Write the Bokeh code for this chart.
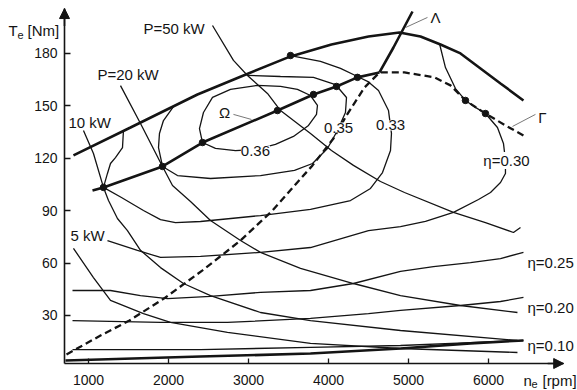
from bokeh.plotting import figure
from bokeh.models import Range1d, FixedTicker, Label, Arrow, NormalHead
from bokeh.embed import file_html
from bokeh.resources import INLINE

# ---------------- data (engine speed in rpm, torque in Nm) ----------------
x_ticks = [1000, 2000, 3000, 4000, 5000, 6000]
y_ticks = [30, 60, 90, 120, 150, 180]

# full-load (maximum torque) curve
max_rpm = [812, 1525, 2362, 2937, 3525, 4037, 4500, 4887, 5150, 5400, 5650, 5900, 6150, 6437]
max_nm = [121.6, 137.6, 156.5, 167.4, 178.3, 185.1, 189.7, 192.0, 189.7, 185.1, 180.0, 171.4, 162.8, 153.1]

# optimal operating line (Omega)
opt_rpm = [1050, 1187, 1925, 2425, 3362, 3812, 4100, 4362, 4637]
opt_nm = [101.5, 103.3, 115.3, 129.0, 147.3, 156.5, 161.1, 166.3, 169.1]

# Lambda line
lam_rpm = [4637, 4812, 5050]
lam_nm = [169.1, 183.4, 204.0]

# Gamma line (dashed)
gam_rpm = [725, 1150, 1512, 1962, 2425, 2900, 3300, 3800, 4062, 4225, 4450, 4637, 4950, 5325, 5525, 5712, 5962, 6212, 6437]
gam_nm = [7.7, 18.5, 27.1, 40.3, 55.8, 72.9, 90.1, 115.9, 131.3, 144.5, 160.5, 169.1, 169.1, 166.3, 161.7, 153.1, 145.6, 138.8, 133.0]

# constant power curves
p50_rpm = [2550, 2812, 2987, 3237, 3400, 3775, 4037, 4312, 4650, 4950, 5562, 5962, 6312, 6400]
p50_nm = [196.0, 176.0, 167.4, 157.1, 147.3, 134.2, 124.4, 115.9, 106.7, 100.4, 89.0, 83.2, 77.5, 80.4]

p20_rpm = [1400, 1650, 1925, 2050, 2275, 2525, 2900, 3150, 3650, 4312, 4900, 5650, 6362]
p20_nm = [161.6, 139.9, 115.3, 104.4, 95.2, 84.4, 72.9, 66.1, 56.9, 48.3, 41.4, 35.7, 31.7]

p10_rpm = [937, 1062, 1187, 1250, 1362, 1487, 1650, 1900, 2187, 2525, 3150, 3775, 4900, 6362]
p10_nm = [135.9, 122.7, 103.3, 95.8, 85.5, 78.6, 67.3, 57.4, 48.3, 41.4, 31.7, 27.1, 21.4, 15.7]

p5_rpm = [812, 1062, 1275, 1687, 2025, 2737, 3775, 4900, 6362]
p5_nm = [68.4, 51.7, 38.6, 31.1, 26.0, 20.3, 14.0, 11.1, 8.8]

# efficiency contours
e36_rpm = [2425, 2387, 2437, 2550, 2775, 3112, 3400, 3612, 3775, 3862, 3850, 3750, 3562, 3337, 3087, 2837, 2587, 2425]
e36_nm = [129.0, 137.0, 146.2, 154.8, 159.4, 161.7, 161.1, 159.4, 155.9, 150.2, 145.1, 138.8, 132.5, 127.9, 125.0, 124.4, 125.6, 129.0]

e35_rpm = [2062, 1937, 1887, 1875, 1925, 2112, 2525, 3150, 3575, 3800, 3987, 4112, 4212, 4225, 4087, 3812, 3400, 2987]
e35_nm = [149.6, 141.6, 134.2, 126.1, 115.3, 110.1, 108.4, 110.1, 113.0, 117.0, 125.6, 135.9, 146.2, 154.8, 162.2, 166.3, 166.8, 167.4]

e33_rpm = [1437, 1425, 1337, 1275, 1237, 1187, 1412, 1687, 1900, 2087, 2400, 3150, 3775, 4275, 4525, 4675,
           4775, 4787, 4750, 4625, 4500, 4362, 4150, 3900, 3525]
e33_nm = [135.9, 126.1, 120.4, 117.0, 111.3, 103.3, 97.5, 90.1, 84.9, 83.2, 83.8, 87.2, 90.7, 95.8, 102.7, 111.8,
          124.4, 134.2, 147.3, 158.8, 163.7, 166.8, 171.4, 175.4, 178.8]

e30_rpm = [5387, 5462, 5587, 5712, 5837, 5962, 6112, 6187, 6212, 6212, 6150, 6025, 5875, 5562, 5212, 4900,
           4500, 3775, 3150, 2400, 1900, 1612, 1237]
e30_nm = [185.7, 171.9, 159.9, 153.1, 149.1, 145.6, 137.6, 128.5, 118.7, 111.3, 106.1, 100.4, 96.4, 89.0, 83.8, 80.9,
          78.6, 68.9, 66.1, 63.8, 63.2, 67.3, 72.9]

e25_rpm = [800, 1275, 1650, 1987, 2525, 3150, 3775, 4312, 4900, 5312, 5775, 6150, 6437]
e25_nm = [44.3, 44.3, 41.4, 39.7, 40.9, 43.2, 44.3, 48.3, 55.2, 58.0, 60.3, 62.6, 66.1]

e20_rpm = [800, 1900, 2737, 3775, 4500, 4900, 5650, 6150, 6437]
e20_nm = [27.1, 26.0, 26.0, 28.3, 31.1, 32.9, 35.7, 38.0, 40.3]

e10_rpm = [800, 2400, 3775, 4900, 5775, 6437]
e10_nm = [10.5, 10.5, 11.7, 12.8, 14.5, 15.7]

# lowest (thick) line
base_rpm = [712, 2400, 3775, 4900, 5775, 6437]
base_nm = [4.2, 6.5, 8.2, 11.1, 14.0, 15.7]

# marked points
dot_rpm = [1187, 1925, 2425, 3362, 3812, 4100, 4362, 3525, 5712, 5962]
dot_nm = [103.3, 115.3, 129.0, 147.3, 156.5, 161.1, 166.3, 178.8, 153.1, 145.6]

# ---------------- figure ----------------
INK = "#141414"
FONT = "Liberation Sans"
X0, X1 = 700, 6940      # axis extent (rpm)
Y0, Y1 = 2.5, 205.7     # axis extent (Nm)

# frame covers the whole canvas; the axes are drawn at fixed locations inside it
p = figure(width=577, height=390,
           x_range=Range1d(-100, 7112.5), y_range=Range1d(-12.95, 210.3),
           output_backend="svg", toolbar_location=None, min_border=0)
p.xgrid.visible = False
p.ygrid.visible = False
p.outline_line_color = None
p.background_fill_color = "white"
p.border_fill_color = "white"

for ax in (p.xaxis[0], p.yaxis[0]):
    ax.axis_line_width = 1.6
    ax.axis_line_color = INK
    ax.major_tick_line_color = INK
    ax.major_tick_line_width = 1.3
    ax.minor_tick_line_color = None
    ax.major_tick_out = 0
    ax.major_label_text_font = FONT
    ax.major_label_text_font_size = "14px"
    ax.major_label_text_color = INK
p.xaxis.fixed_location = Y0
p.xaxis.bounds = (X0, X1)
p.xaxis.ticker = FixedTicker(ticks=x_ticks)
p.xaxis.major_tick_in = 5
p.xaxis.major_label_standoff = 11
p.yaxis.fixed_location = X0
p.yaxis.bounds = (Y0, Y1)
p.yaxis.ticker = FixedTicker(ticks=y_ticks)
p.yaxis.major_tick_in = 6
p.yaxis.major_label_standoff = 7

THIN = 1.3
THICK = 2.6

for xs, ys in [(p50_rpm, p50_nm), (p20_rpm, p20_nm), (p10_rpm, p10_nm), (p5_rpm, p5_nm),
               (e36_rpm, e36_nm), (e35_rpm, e35_nm), (e33_rpm, e33_nm), (e30_rpm, e30_nm),
               (e25_rpm, e25_nm), (e20_rpm, e20_nm), (e10_rpm, e10_nm)]:
    p.line(xs, ys, line_color=INK, line_width=THIN)

p.line(gam_rpm, gam_nm, line_color=INK, line_width=2.3, line_dash="7 4")
for xs, ys in [(max_rpm, max_nm), (opt_rpm, opt_nm), (lam_rpm, lam_nm), (base_rpm, base_nm)]:
    p.line(xs, ys, line_color=INK, line_width=THICK)

p.scatter(dot_rpm, dot_nm, size=6.5, fill_color=INK, line_color=INK)

# leader lines for symbols
p.line([4962, 5237], [194.8, 200.6], line_color="#555555", line_width=0.8)
p.line([6300, 6587], [138.2, 145.1], line_color="#555555", line_width=0.8)
p.line([2812, 3037], [145.1, 142.2], line_color="#555555", line_width=0.8)

# axis arrow heads
p.add_layout(Arrow(end=NormalHead(size=10, line_color=INK, fill_color=INK, line_width=1),
                   x_start=X0, y_start=Y1 - 10, x_end=X0, y_end=Y1, line_color=INK, line_width=1.6))
p.add_layout(Arrow(end=NormalHead(size=10, line_color=INK, fill_color=INK, line_width=1),
                   x_start=X1 - 200, y_start=Y0, x_end=X1, y_end=Y0, line_color=INK, line_width=1.6))


def lab(x, y, text, align="left", size="15px", bg=None, xoff=0, yoff=0):
    kw = {}
    if bg:
        kw["background_fill_color"] = bg
    p.add_layout(Label(x=x, y=y, text=text, text_font=FONT, text_font_size=size,
                       text_color=INK, text_align=align, text_baseline="middle",
                       x_offset=xoff, y_offset=yoff, **kw))


# axis titles with subscripts
lab(0, 193.1, "T")
lab(0, 193.1, "e", size="11px", xoff=9, yoff=-4)
lab(0, 193.1, "[Nm]", xoff=19)
lab(6437, -7.2, "n")
lab(6437, -7.2, "e", size="11px", xoff=8, yoff=-4)
lab(6437, -7.2, "[rpm]", xoff=19)

# curve labels
lab(1687, 194.3, "P=50 kW")
lab(1112, 167.9, "P=20 kW")
lab(750, 140.5, "10 kW")
lab(775, 75.8, "5 kW")
lab(2700, 146.2, "\u03a9", align="center")
lab(3087, 124.4, "0.36", align="center", bg="white")
lab(4125, 137.6, "0.35", align="center", bg="white")
lab(4775, 138.8, "0.33", align="center", bg="white")
lab(6225, 118.7, "\u03b7=0.30", align="center", bg="white")
lab(6487, 60.3, "\u03b7=0.25")
lab(6487, 34.6, "\u03b7=0.20")
lab(6487, 12.8, "\u03b7=0.10")
lab(5337, 200.6, "\u039b", align="center")
lab(6675, 143.3, "\u0393", align="center")

open("out.html", "w").write(file_html(p, INLINE))
